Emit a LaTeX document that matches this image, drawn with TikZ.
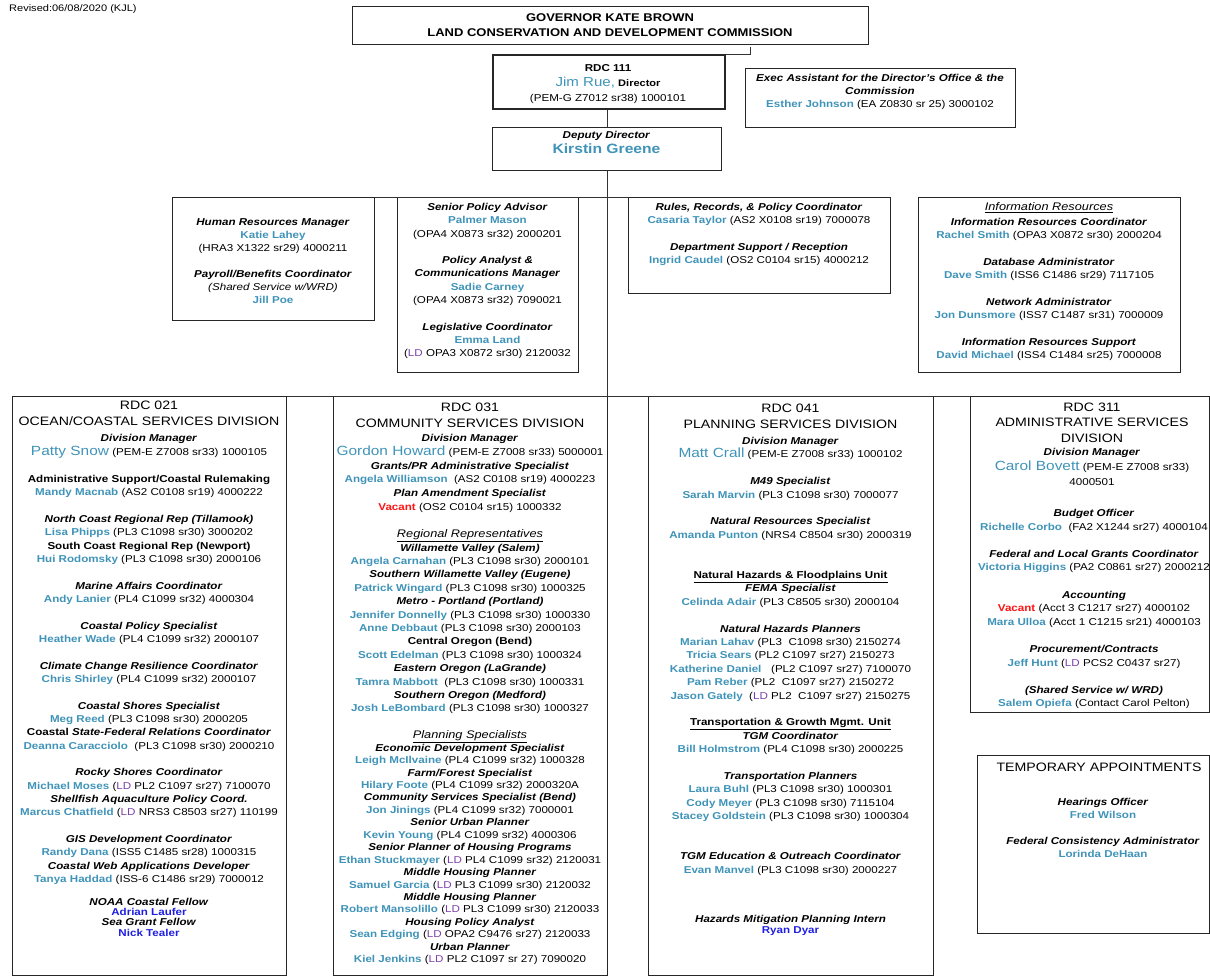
\documentclass[tikz,border=0pt]{standalone}
\usepackage{fontspec}
\setmainfont{Liberation Sans}[FakeStretch=1.16]

\definecolor{namecol}{HTML}{3F93B8}
\definecolor{ldcol}{HTML}{7B3FA8}
\definecolor{vaccol}{HTML}{FF1414}
\definecolor{felcol}{HTML}{1F1FE0}

\newcommand{\pname}[1]{\textcolor{namecol}{\textbf{#1}}}
\newcommand{\bigname}[1]{\textcolor{namecol}{\fontsize{13.3}{14}\selectfont #1}}
\newcommand{\jobt}[1]{\textbf{\textit{#1}}}
\newcommand{\ldtag}{\textcolor{ldcol}{LD}}
\newcommand{\vacant}{\textcolor{vaccol}{\textbf{Vacant}}}
\newcommand{\fellow}[1]{\textcolor{felcol}{\textbf{#1}}}

\tikzset{
  box/.style={draw=black!85, line width=.8pt, anchor=north west, inner sep=0pt},
  conn/.style={draw=black!80, line width=.8pt},
  txt/.style={align=center, inner sep=0pt, anchor=north, font=\fontsize{10}{13.3}\selectfont},
  head/.style={align=center, inner sep=0pt, anchor=north, font=\fontsize{12.2}{16}\selectfont},
}

\begin{document}
\begin{tikzpicture}[x=1pt,y=-1pt]
\useasboundingbox (0,0) rectangle (1210,977);

\node[anchor=west,inner sep=0pt,font=\fontsize{9.5}{11}\selectfont] (rev) at (9,9) {Revised:06/08/2020 (KJL)};

% top of the chart
\node[box,minimum width=516pt,minimum height=38pt] (gov) at (352,6) {};
\node[head,font=\fontsize{11.2}{15}\selectfont\bfseries] (govtxt) at (610,13.8)
  {GOVERNOR KATE BROWN\\LAND CONSERVATION AND DEVELOPMENT COMMISSION};

\node[box,line width=2pt,minimum width=232pt,minimum height=54pt] (dir) at (492,54) {};
\node[txt,font=\fontsize{10}{15}\selectfont] (dirtxt) at (608,64)
  {\textbf{RDC 111}\\
   \textcolor{namecol}{\fontsize{13}{15}\selectfont Jim Rue,} {\fontsize{9.5}{15}\selectfont\textbf{Director}}\\
   (PEM-G Z7012 sr38) 1000101};

\node[box,minimum width=270pt,minimum height=59pt] (exec) at (745,68) {};
\node[txt,font=\fontsize{10}{13}\selectfont] (exectxt) at (880,74)
  {\jobt{Exec Assistant for the Director's Office \& the}\\
   \jobt{Commission}\\
   \pname{Esther Johnson} (EA Z0830 sr 25) 3000102};

\node[box,minimum width=229pt,minimum height=43pt] (dep) at (492,127) {};
\node[txt,font=\fontsize{10}{15}\selectfont] (deptxt) at (606.5,131)
  {\jobt{Deputy Director}\\
   {\color{namecol}\fontsize{13.5}{15}\selectfont\bfseries Kirstin Greene}};

\coordinate (govtap) at (750,47);
\draw[conn] (dir.north east) -| (govtap);
\draw[conn] (dep.north) -- (dep.north |- dir.south);

% staff row
\node[box,minimum width=202pt,minimum height=123pt] (hr) at (172,197) {};
\node[txt,font=\fontsize{10}{13}\selectfont] (hrtxt) at (273,218)
  {\jobt{Human Resources Manager}\\
   \pname{Katie Lahey}\\
   (HRA3 X1322 sr29) 4000211\\[13pt]
   \jobt{Payroll/Benefits Coordinator}\\
   \textit{(Shared Service w/WRD)}\\
   \pname{Jill Poe}};

\node[box,minimum width=181pt,minimum height=175pt] (pol) at (397,197) {};
\node[txt] (poltxt) at (487.5,203)
  {\jobt{Senior Policy Advisor}\\
   \pname{Palmer Mason}\\
   (OPA4 X0873 sr32) 2000201\\[13.3pt]
   \jobt{Policy Analyst \&}\\
   \jobt{Communications Manager}\\
   \pname{Sadie Carney}\\
   (OPA4 X0873 sr32) 7090021\\[13.3pt]
   \jobt{Legislative Coordinator}\\
   \pname{Emma Land}\\
   (\ldtag{} OPA3 X0872 sr30) 2120032};

\node[box,minimum width=262pt,minimum height=96pt] (rules) at (628,197) {};
\node[txt] (rulestxt) at (759,203)
  {\jobt{Rules, Records, \& Policy Coordinator}\\
   \pname{Casaria Taylor} (AS2 X0108 sr19) 7000078\\[13.3pt]
   \jobt{Department Support / Reception}\\
   \pname{Ingrid Caudel} (OS2 C0104 sr15) 4000212};

\node[box,minimum width=262pt,minimum height=175pt] (info) at (918,197) {};
\node[txt,font=\fontsize{11}{13}\selectfont] (infohead) at (1049,202.5)
  {\textit{\underline{Information Resources}}};
\node[txt] (infotxt) at (1049,218)
  {\jobt{Information Resources Coordinator}\\
   \pname{Rachel Smith} (OPA3 X0872 sr30) 2000204\\[13.3pt]
   \jobt{Database Administrator}\\
   \pname{Dave Smith} (ISS6 C1486 sr29) 7117105\\[13.3pt]
   \jobt{Network Administrator}\\
   \pname{Jon Dunsmore} (ISS7 C1487 sr31) 7000009\\[13.3pt]
   \jobt{Information Resources Support}\\
   \pname{David Michael} (ISS4 C1484 sr25) 7000008};

\draw[conn] (hr.north east) -- (rules.north west);

% divisions
\node[box,minimum width=274pt,minimum height=579pt] (ocean) at (12,396) {};
\node[box,minimum width=274pt,minimum height=579pt] (comm) at (333,396) {};
\node[box,minimum width=285pt,minimum height=579pt] (plan) at (648,396) {};
\node[box,minimum width=239pt,minimum height=316pt] (admin) at (970,396) {};
\node[box,minimum width=232pt,minimum height=178pt] (temp) at (977,755) {};

\draw[conn] (dep.south) -- (dep.south |- comm.north);
\draw[conn] (ocean.north east) -- (admin.north west);

% ocean/coastal
\node[head] (oceanhead) at (149,400.5) {RDC 021\\OCEAN/COASTAL SERVICES DIVISION};
\node[txt,font=\fontsize{10}{14}\selectfont] (oceanmgr) at (149,434)
  {\jobt{Division Manager}\\
   \bigname{Patty Snow} (PEM-E Z7008 sr33) 1000105};
\node[txt,font=\fontsize{10}{13.33}\selectfont] (oceantxt) at (149,475)
  {\textbf{Administrative Support/Coastal Rulemaking}\\
   \pname{Mandy Macnab} (AS2 C0108 sr19) 4000222\\[13.33pt]
   \jobt{North Coast Regional Rep (Tillamook)}\\
   \pname{Lisa Phipps} (PL3 C1098 sr30) 3000202\\
   \textbf{South Coast Regional Rep (Newport)}\\
   \pname{Hui Rodomsky} (PL3 C1098 sr30) 2000106\\[13.33pt]
   \jobt{Marine Affairs Coordinator}\\
   \pname{Andy Lanier} (PL4 C1099 sr32) 4000304\\[13.33pt]
   \jobt{Coastal Policy Specialist}\\
   \pname{Heather Wade} (PL4 C1099 sr32) 2000107\\[13.33pt]
   \jobt{Climate Change Resilience Coordinator}\\
   \pname{Chris Shirley} (PL4 C1099 sr32) 2000107\\[13.33pt]
   \jobt{Coastal Shores Specialist}\\
   \pname{Meg Reed} (PL3 C1098 sr30) 2000205\\
   \textbf{Coastal \textit{State-Federal Relations Coordinator}}\\
   \pname{Deanna Caracciolo}\ \ (PL3 C1098 sr30) 2000210\\[13.33pt]
   \jobt{Rocky Shores Coordinator}\\
   \pname{Michael Moses} (\ldtag{} PL2 C1097 sr27) 7100070\\
   \jobt{Shellfish Aquaculture Policy Coord.}\\
   \pname{Marcus Chatfield} (\ldtag{} NRS3 C8503 sr27) 110199\\[13.33pt]
   \jobt{GIS Development Coordinator}\\
   \pname{Randy Dana} (ISS5 C1485 sr28) 1000315\\
   \jobt{Coastal Web Applications Developer}\\
   \pname{Tanya Haddad} (ISS-6 C1486 sr29) 7000012};
\node[txt,font=\fontsize{10}{10.2}\selectfont] (oceanfel) at (149,898)
  {\jobt{NOAA Coastal Fellow}\\
   \fellow{Adrian Laufer}\\
   \jobt{Sea Grant Fellow}\\
   \fellow{Nick Tealer}};

% community services
\node[head] (commhead) at (470,402.5) {RDC 031\\COMMUNITY SERVICES DIVISION};
\node[txt,font=\fontsize{10}{13.8}\selectfont] (commmgr) at (470,434)
  {\jobt{Division Manager}\\
   \bigname{Gordon Howard} (PEM-E Z7008 sr33) 5000001\\
   \jobt{Grants/PR Administrative Specialist}\\
   \pname{Angela Williamson}\ \ (AS2 C0108 sr19) 4000223\\
   \jobt{Plan Amendment Specialist}\\
   \vacant{} (OS2 C0104 sr15) 1000332};
\node[txt,font=\fontsize{10}{13.4}\selectfont] (commreg) at (470,529.5)
  {{\fontsize{11}{13.4}\selectfont\textit{\underline{Regional Representatives}}}\\
   \jobt{Willamette Valley (Salem)}\\
   \pname{Angela Carnahan} (PL3 C1098 sr30) 2000101\\
   \jobt{Southern Willamette Valley (Eugene)}\\
   \pname{Patrick Wingard} (PL3 C1098 sr30) 1000325\\
   \jobt{Metro - Portland (Portland)}\\
   \pname{Jennifer Donnelly} (PL3 C1098 sr30) 1000330\\
   \pname{Anne Debbaut} (PL3 C1098 sr30) 2000103\\
   \textbf{Central Oregon (Bend)}\\
   \pname{Scott Edelman} (PL3 C1098 sr30) 1000324\\
   \jobt{Eastern Oregon (LaGrande)}\\
   \pname{Tamra Mabbott}\ \ (PL3 C1098 sr30) 1000331\\
   \jobt{Southern Oregon (Medford)}\\
   \pname{Josh LeBombard} (PL3 C1098 sr30) 1000327};
\node[txt,font=\fontsize{10}{12.45}\selectfont] (commspec) at (470,730.5)
  {{\fontsize{11}{12.45}\selectfont\textit{\underline{Planning Specialists}}}\\
   \jobt{Economic Development Specialist}\\
   \pname{Leigh McIlvaine} (PL4 C1099 sr32) 1000328\\
   \jobt{Farm/Forest Specialist}\\
   \pname{Hilary Foote} (PL4 C1099 sr32) 2000320A\\
   \jobt{Community Services Specialist (Bend)}\\
   \pname{Jon Jinings} (PL4 C1099 sr32) 7000001\\
   \jobt{Senior Urban Planner}\\
   \pname{Kevin Young} (PL4 C1099 sr32) 4000306\\
   \jobt{Senior Planner of Housing Programs}\\
   \pname{Ethan Stuckmayer} (\ldtag{} PL4 C1099 sr32) 2120031\\
   \jobt{Middle Housing Planner}\\
   \pname{Samuel Garcia} (\ldtag{} PL3 C1099 sr30) 2120032\\
   \jobt{Middle Housing Planner}\\
   \pname{Robert Mansolillo} (\ldtag{} PL3 C1099 sr30) 2120033\\
   \jobt{Housing Policy Analyst}\\
   \pname{Sean Edging} (\ldtag{} OPA2 C9476 sr27) 2120033\\
   \jobt{Urban Planner}\\
   \pname{Kiel Jenkins} (\ldtag{} PL2 C1097 sr 27) 7090020};

% planning services
\node[head] (planhead) at (790.5,403.5) {RDC 041\\PLANNING SERVICES DIVISION};
\node[txt,font=\fontsize{10}{13.4}\selectfont] (plantxt) at (790.5,437)
  {\jobt{Division Manager}\\
   \bigname{Matt Crall} (PEM-E Z7008 sr33) 1000102\\[13.4pt]
   \jobt{M49 Specialist}\\
   \pname{Sarah Marvin} (PL3 C1098 sr30) 7000077\\[13.4pt]
   \jobt{Natural Resources Specialist}\\
   \pname{Amanda Punton} (NRS4 C8504 sr30) 2000319\\[26.8pt]
   \textbf{\underline{Natural Hazards \& Floodplains Unit}}\\
   \jobt{FEMA Specialist}\\
   \pname{Celinda Adair} (PL3 C8505 sr30) 2000104\\[13.4pt]
   \jobt{Natural Hazards Planners}\\
   \pname{Marian Lahav} (PL3\ \ C1098 sr30) 2150274\\
   \pname{Tricia Sears} (PL2 C1097 sr27) 2150273\\
   \pname{Katherine Daniel}\ \ \ (PL2 C1097 sr27) 7100070\\
   \pname{Pam Reber} (PL2\ \ C1097 sr27) 2150272\\
   \pname{Jason Gately}\ \ (\ldtag{} PL2\ \ C1097 sr27) 2150275\\[13.4pt]
   \textbf{\underline{Transportation \& Growth Mgmt. Unit}}\\
   \jobt{TGM Coordinator}\\
   \pname{Bill Holmstrom} (PL4 C1098 sr30) 2000225\\[13.4pt]
   \jobt{Transportation Planners}\\
   \pname{Laura Buhl} (PL3 C1098 sr30) 1000301\\
   \pname{Cody Meyer} (PL3 C1098 sr30) 7115104\\
   \pname{Stacey Goldstein} (PL3 C1098 sr30) 1000304\\[26.8pt]
   \jobt{TGM Education \& Outreach Coordinator}\\
   \pname{Evan Manvel} (PL3 C1098 sr30) 2000227};
\node[txt,font=\fontsize{10}{11}\selectfont] (planintern) at (790.5,915)
  {\jobt{Hazards Mitigation Planning Intern}\\
   \fellow{Ryan Dyar}};

% administrative services
\node[head,font=\fontsize{12.2}{15.5}\selectfont] (adminhead) at (1092,402.5)
  {RDC 311\\ADMINISTRATIVE SERVICES\\DIVISION};
\node[txt,font=\fontsize{10}{15}\selectfont] (adminmgr) at (1092,448)
  {\jobt{Division Manager}\\
   \bigname{Carol Bovett} (PEM-E Z7008 sr33)\\
   4000501};
\node[txt,font=\fontsize{10}{13.6}\selectfont] (admintxt) at (1094,509)
  {\jobt{Budget Officer}\\
   \pname{Richelle Corbo}\ \ (FA2 X1244 sr27) 4000104\\[13.6pt]
   \jobt{Federal and Local Grants Coordinator}\\
   \pname{Victoria Higgins} (PA2 C0861 sr27) 2000212\\[13.6pt]
   \jobt{Accounting}\\
   \vacant{} (Acct 3 C1217 sr27) 4000102\\
   \pname{Mara Ulloa} (Acct 1 C1215 sr21) 4000103\\[13.6pt]
   \jobt{Procurement/Contracts}\\
   \pname{Jeff Hunt} (\ldtag{} PCS2 C0437 sr27)\\[13.6pt]
   \jobt{(Shared Service w/ WRD)}\\
   \pname{Salem Opiefa} (Contact Carol Pelton)};

% temporary appointments
\node[head] (temphead) at (1099,762.5) {TEMPORARY APPOINTMENTS};
\node[txt,font=\fontsize{10}{13}\selectfont] (temptxt) at (1103,798)
  {\jobt{Hearings Officer}\\
   \pname{Fred Wilson}\\[13pt]
   \jobt{Federal Consistency Administrator}\\
   \pname{Lorinda DeHaan}};
\end{tikzpicture}
\end{document}
